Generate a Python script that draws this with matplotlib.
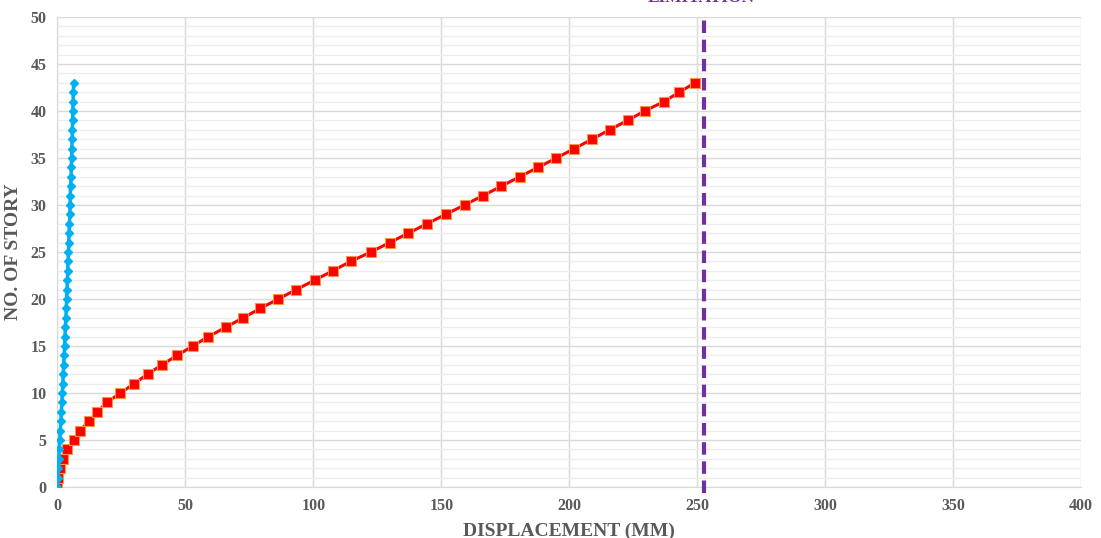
import numpy as np
import matplotlib.pyplot as plt
from matplotlib.ticker import MultipleLocator

# Story numbers
stories = list(range(0, 44))

# Displacement (mm) - red series
disp_red = [0.0, 0.2, 0.9, 2.1, 3.9, 6.3, 8.9, 12.2, 15.6, 19.3,
            24.6, 30.0, 35.2, 40.8, 46.8, 52.9, 59.0, 65.8, 72.6, 79.3,
            86.3, 93.3, 100.5, 107.6, 114.6, 122.5, 129.8, 137.1, 144.4, 151.7,
            159.1, 166.3, 173.5, 180.6, 187.8, 195.0, 202.0, 208.9, 215.8, 222.8,
            229.5, 237.0, 243.0, 249.2]

# Displacement (mm) - blue series
disp_blue = [0.0, 0.1, 0.3, 0.5, 0.7, 0.9, 1.1, 1.3, 1.5, 1.7,
             1.9, 2.1, 2.2, 2.4, 2.6, 2.8, 2.9, 3.1, 3.3, 3.4,
             3.6, 3.7, 3.9, 4.0, 4.1, 4.3, 4.4, 4.5, 4.7, 4.8,
             4.9, 5.0, 5.1, 5.3, 5.4, 5.5, 5.6, 5.7, 5.8, 5.9,
             6.0, 6.1, 6.2, 6.3]

limit_value = 252.8

plt.rcParams['font.family'] = ['Liberation Serif', 'DejaVu Serif']

fig = plt.figure(figsize=(11.01, 5.38), dpi=100)
ax = fig.add_axes([0.0522, 0.0948, 0.9296, 0.8736])

ax.plot(disp_red, stories, color='#FF0000', linewidth=2.2, marker='s',
        markersize=6.5, markerfacecolor='#FF0000', markeredgecolor='#F79646',
        markeredgewidth=0.8, zorder=3)
ax.plot(disp_blue, stories, color='#00B0F0', linewidth=2.5, marker='D',
        markersize=4.5, markerfacecolor='#00B0F0', markeredgecolor='#00B0F0',
        zorder=4)
ax.axvline(limit_value, ymin=-0.012, ymax=1, color='#7030A0', linewidth=3,
           linestyle=(0, (3, 1.6)), clip_on=False, zorder=5)

ax.set_xlim(0, 400)
ax.set_ylim(0, 50)
ax.xaxis.set_major_locator(MultipleLocator(50))
ax.yaxis.set_major_locator(MultipleLocator(5))
ax.yaxis.set_minor_locator(MultipleLocator(1))

ax.grid(which='major', color='#D9D9D9', linewidth=1)
ax.grid(which='minor', axis='y', color='#EDEDED', linewidth=1)
ax.set_axisbelow(True)

for side in ['top', 'right']:
    ax.spines[side].set_visible(False)
for side in ['left', 'bottom']:
    ax.spines[side].set_color('#D9D9D9')

ax.tick_params(which='both', length=0, pad=8)
for lbl in ax.get_xticklabels() + ax.get_yticklabels():
    lbl.set_fontweight('bold')
    lbl.set_color('#595959')
    lbl.set_fontsize(11.5)

ax.set_xlabel('DISPLACEMENT (MM)', fontsize=14, fontweight='bold',
              color='#595959', labelpad=6)
ax.set_ylabel('NO. OF STORY', fontsize=14, fontweight='bold',
              color='#595959', labelpad=6)

# label of the limit line, mostly cut off at the top edge as in the source
fig.text(0.637, 1 - 2 / 538, 'LIMITATION', ha='center', va='baseline',
         fontsize=12.5, fontweight='bold', color='#7030A0')

plt.savefig('out.png', dpi=100)
